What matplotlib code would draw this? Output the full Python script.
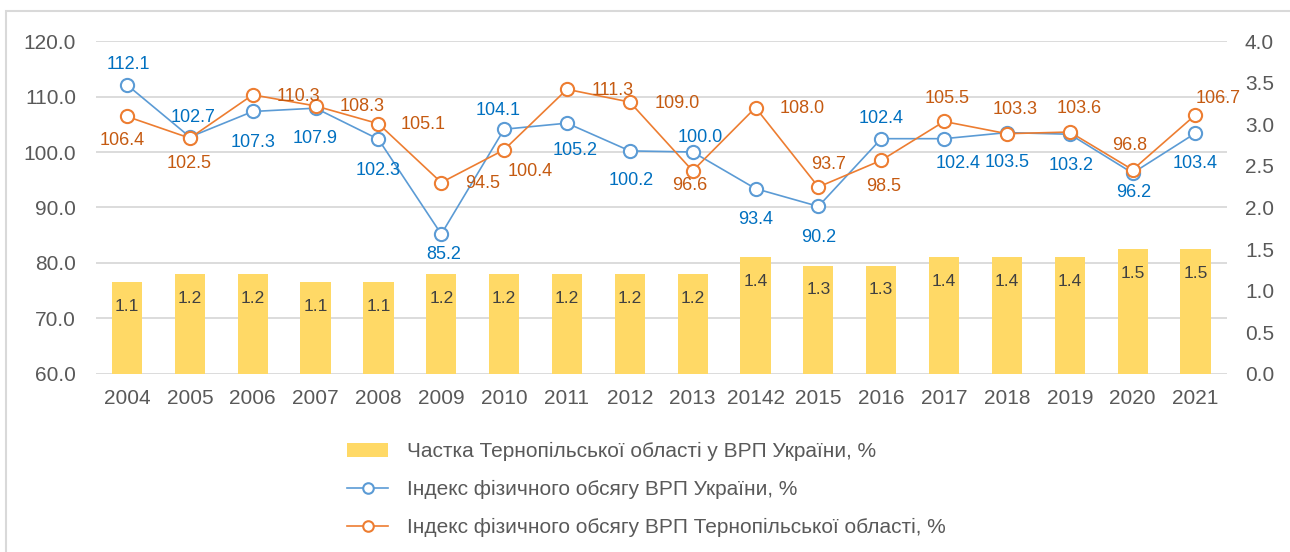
import matplotlib
matplotlib.use('Agg')
import matplotlib.pyplot as plt
from matplotlib.patches import Rectangle

plt.rcParams['font.family'] = ['Liberation Sans', 'DejaVu Sans']

years = ['2004', '2005', '2006', '2007', '2008', '2009', '2010', '2011', '2012',
         '2013', '20142', '2015', '2016', '2017', '2018', '2019', '2020', '2021']
share = [1.1, 1.2, 1.2, 1.1, 1.1, 1.2, 1.2, 1.2, 1.2, 1.2, 1.4, 1.3, 1.3, 1.4, 1.4, 1.4, 1.5, 1.5]
ukraine = [112.1, 102.7, 107.3, 107.9, 102.3, 85.2, 104.1, 105.2, 100.2, 100.0,
           93.4, 90.2, 102.4, 102.4, 103.5, 103.2, 96.2, 103.4]
ternopil = [106.4, 102.5, 110.3, 108.3, 105.1, 94.5, 100.4, 111.3, 109.0, 96.6,
            108.0, 93.7, 98.5, 105.5, 103.3, 103.6, 96.8, 106.7]

labels = ['Частка Тернопільської області у ВРП України, %',
          'Індекс фізичного обсягу ВРП України, %',
          'Індекс фізичного обсягу ВРП Тернопільської області, %']

# label offsets in pixels (dx, dy), dy positive = up
ukr_off = [(1, 20), (3, 20), (0, -31), (0, -30), (0, -31), (2, -20), (-6, 19), (8, -27),
           (1, -30), (8, 15), (0, -31), (0, -31), (0, 20), (14, -25), (0, -30), (1, -31),
           (1, -19), (0, -30)]
ter_off = [(-5, -24), (-1, -25), (46, -2), (47, -1), (45, -1), (41, -1), (26, -22), (46, -1),
           (47, -1), (-3, -15), (47, -1), (10, 22), (2, -26), (3, 23), (8, 24), (9, 24),
           (-3, 24), (23, 16)]

bar_color = '#FFD966'
blue = '#5B9BD5'
orange = '#ED7D31'
blue_txt = '#0070C0'
orange_txt = '#C55A11'
gray_txt = '#595959'
grid_color = '#D9D9D9'

fig = plt.figure(figsize=(12.9, 5.52), dpi=100)
ax1 = fig.add_axes([0.0741, 0.3225, 0.8770, 0.6032])
ax2 = ax1.twinx()
ax3 = ax1.twinx()

x = list(range(len(years)))

# left axis with grid
ax1.set_ylim(60, 120)
ax1.set_yticks(range(60, 121, 10))
ax1.set_yticklabels([f'{v:.1f}' for v in range(60, 121, 10)])
ax1.yaxis.grid(True, color=grid_color, linewidth=1.3)
ax1.set_axisbelow(True)
ax1.set_xlim(-0.5, len(years) - 0.5)
ax1.set_xticks(x)
ax1.set_xticklabels(years)
ax1.tick_params(axis='both', length=0, labelsize=15, labelcolor=gray_txt)
ax1.tick_params(axis='y', pad=14)
ax1.tick_params(axis='x', pad=11)

# bars on right axis
ax2.set_ylim(0, 4)
ax2.set_yticks([i * 0.5 for i in range(9)])
ax2.set_yticklabels([f'{i * 0.5:.1f}' for i in range(9)])
ax2.tick_params(axis='y', length=0, labelsize=15, labelcolor=gray_txt, pad=13)
bars = ax2.bar(x, share, width=0.48, color=bar_color, zorder=2)
for xi, v in zip(x, share):
    ax2.annotate(f'{v:.1f}', (xi, v), xytext=(0, -24), textcoords='offset pixels',
                 ha='center', va='center', fontsize=12.5, color='#404040')

# lines on top axis sharing left scale
ax3.set_ylim(60, 120)
ax3.set_yticks([])
l1, = ax3.plot(x, ukraine, color=blue, linewidth=1.2, marker='o', markersize=9.5,
               markerfacecolor='white', markeredgecolor=blue, markeredgewidth=1.5)
l2, = ax3.plot(x, ternopil, color=orange, linewidth=1.2, marker='o', markersize=9.5,
               markerfacecolor='white', markeredgecolor=orange, markeredgewidth=1.5)
for xi, v, (dx, dy) in zip(x, ukraine, ukr_off):
    ax3.annotate(f'{v:.1f}', (xi, v), xytext=(dx, dy), textcoords='offset pixels',
                 ha='center', va='center', fontsize=13, color=blue_txt)
for xi, v, (dx, dy) in zip(x, ternopil, ter_off):
    ax3.annotate(f'{v:.1f}', (xi, v), xytext=(dx, dy), textcoords='offset pixels',
                 ha='center', va='center', fontsize=13, color=orange_txt)

for ax in (ax1, ax2, ax3):
    for s in ax.spines.values():
        s.set_visible(False)
    ax.patch.set_visible(False)

fig.legend([bars, l1, l2], labels, loc='upper left', bbox_to_anchor=(337 / 1290, 1 - 432 / 552),
           frameon=False, borderpad=0, fontsize=15, labelcolor=gray_txt, markerscale=0.8,
           handlelength=1.97, handletextpad=0.87, labelspacing=0.9)

fig.patches.append(Rectangle((6 / 1290, -0.1), 1.2, 1 - 11 / 552 + 0.1, transform=fig.transFigure,
                             fill=False, edgecolor=grid_color, linewidth=1.5))

fig.savefig('out.png', dpi=100)
